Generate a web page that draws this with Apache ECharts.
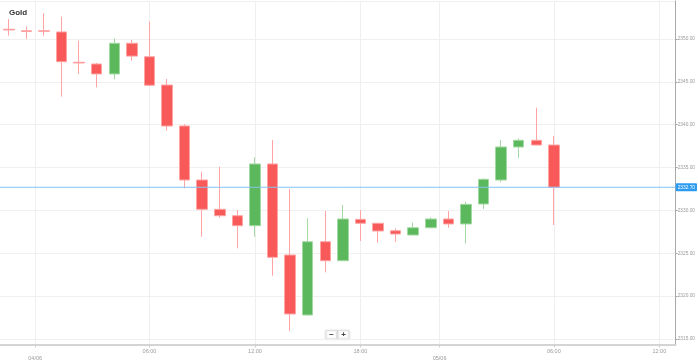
<!DOCTYPE html>
<html>
<head>
<meta charset="utf-8">
<script src="https://cdn.jsdelivr.net/npm/echarts@6/dist/echarts.min.js"></script>
<style>
html,body{margin:0;padding:0;background:#fff;}
#chart{width:698px;height:362px;}
</style>
</head>
<body>
<div id="chart"></div>
<script>
// Hourly candles (03/06 22:00 ... 05/06 06:00) plus empty future slots to 12:00
const categories = ['22:00','23:00','00:00','01:00','02:00','03:00','04:00','05:00','06:00','07:00',
  '08:00','09:00','10:00','11:00','12:00','13:00','14:00','15:00','16:00','17:00',
  '18:00','19:00','20:00','21:00','22:00','00:00','01:00','02:00','03:00','04:00',
  '05:00','06:00','07:00','08:00','09:00','10:00','11:00','12:00'];
const openValues  = [2351.13,2350.95,2350.95,2350.82,2347.28,2347.08,2345.92,2349.50,2347.93,2344.63,
  2339.85,2333.55,2330.13,2329.38,2328.22,2335.42,2324.80,2317.80,2326.35,2324.13,
  2328.96,2328.50,2327.63,2327.13,2327.98,2329.00,2328.42,2330.75,2333.55,2337.40,
  2338.18,2337.63];
const closeValues = [2351.05,2350.88,2350.90,2347.35,2347.20,2345.92,2349.50,2348.00,2344.60,2339.85,
  2333.55,2330.13,2329.38,2328.22,2335.42,2324.53,2317.92,2326.35,2324.13,2329.00,
  2328.50,2327.60,2327.25,2327.98,2329.00,2328.42,2330.71,2333.63,2337.40,2338.18,
  2337.63,2332.70];
const lowValues   = [2350.39,2350.00,2350.39,2343.27,2345.92,2344.36,2345.30,2347.47,2344.50,2339.30,
  2332.58,2326.93,2329.15,2325.58,2326.93,2322.38,2315.93,2317.70,2322.78,2324.10,
  2326.43,2326.23,2326.30,2327.10,2327.90,2327.98,2326.16,2330.17,2333.28,2336.08,
  2337.60,2328.30];
const highValues  = [2352.33,2351.44,2353.00,2352.60,2349.80,2347.20,2350.08,2349.88,2352.02,2345.33,
  2340.05,2334.52,2335.10,2330.05,2336.20,2338.22,2332.50,2329.08,2329.93,2330.63,
  2330.05,2328.57,2327.90,2328.57,2329.20,2329.93,2331.02,2333.75,2338.22,2338.40,
  2341.98,2338.68];
const currentPrice = 2332.70;
// Time-axis labels on a half-slot grid (index j = 2*slot+1 is a slot centre, 2*slot a boundary)
const hourLabelSlots = [17, 29, 41, 63, 75];
const hourLabelTexts = ['06:00', '12:00', '18:00', '06:00', '12:00'];
const dateLabelSlots = [4, 50];
const dateLabelTexts = ['04/06', '05/06'];
const yMin = 2314.36, yMax = 2354.43;

const halfCount = categories.length * 2 + 1;
const hourAxisData = new Array(halfCount).fill('');
hourLabelSlots.forEach((j, k) => { hourAxisData[j] = hourLabelTexts[k]; });
const dateAxisData = new Array(halfCount).fill('');
dateLabelSlots.forEach((j, k) => { dateAxisData[j] = dateLabelTexts[k]; });

const candleData = openValues.map((o, i) => [o, closeValues[i], lowValues[i], highValues[i]]);

const FONT = 'Liberation Sans';
const slotW = 17.63;
const gridLeft = -1.8;
const gridTop = 1, gridBottom = 17.5;
const showNonEmpty = (idx, val) => val !== '';
const priceLineColor = '#86c3f0';

const chart = echarts.init(document.getElementById('chart'), null, {renderer: 'canvas'});
chart.setOption({
  animation: false,
  backgroundColor: '#ffffff',
  textStyle: {fontFamily: FONT},
  title: {
    text: 'Gold', left: 4, top: 3.5,
    textStyle: {fontSize: 8, fontWeight: 'bold', color: '#333', fontFamily: FONT}
  },
  grid: [
    {left: gridLeft, top: gridTop, width: slotW * categories.length, bottom: gridBottom},
    {left: 0, top: gridTop, right: 22, bottom: gridBottom}
  ],
  xAxis: [
    {
      type: 'category', gridIndex: 0, data: categories, boundaryGap: true,
      axisLine: {show: false, onZero: false}, axisTick: {show: false}, axisLabel: {show: false}, splitLine: {show: false}
    },
    {
      type: 'category', gridIndex: 0, data: hourAxisData, boundaryGap: false, position: 'bottom',
      axisLine: {show: false, onZero: false},
      axisTick: {show: true, interval: showNonEmpty, length: 3, lineStyle: {color: '#cfcfcf'}},
      axisLabel: {show: true, interval: showNonEmpty, margin: 4, fontSize: 5.5, color: '#9a9a9a', fontFamily: FONT},
      splitLine: {show: true, interval: showNonEmpty, lineStyle: {color: '#efefef', width: 1}}
    },
    {
      type: 'category', gridIndex: 0, data: dateAxisData, boundaryGap: false, position: 'bottom',
      axisLine: {show: false, onZero: false},
      axisTick: {show: true, interval: showNonEmpty, length: 3, lineStyle: {color: '#cfcfcf'}},
      axisLabel: {show: true, interval: showNonEmpty, margin: 11, fontSize: 5.5, color: '#9a9a9a', fontFamily: FONT},
      splitLine: {show: true, interval: showNonEmpty, lineStyle: {color: '#efefef', width: 1}}
    },
    {
      type: 'value', gridIndex: 1, min: 1, max: 2, position: 'bottom',
      axisLine: {show: true, onZero: false, lineStyle: {color: '#d4d4d4', width: 2}},
      axisTick: {show: false}, axisLabel: {show: false}, splitLine: {show: false}
    }
  ],
  yAxis: [
    {type: 'value', gridIndex: 0, min: yMin, max: yMax, show: false,
     axisLine: {show: false, onZero: false}, splitLine: {show: false}},
    {
      type: 'value', gridIndex: 1, min: yMin, max: yMax, splitNumber: 8, position: 'right',
      axisLine: {show: true, onZero: false, lineStyle: {color: '#a8a8a8', width: 1}},
      axisTick: {show: true, length: 2, lineStyle: {color: '#a8a8a8'}},
      axisLabel: {
        show: true, margin: 2, fontSize: 4.8, color: '#9a9a9a', fontFamily: FONT,
        showMinLabel: false, showMaxLabel: false,
        formatter: v => v.toFixed(2)
      },
      splitLine: {show: true, lineStyle: {color: '#f0f0f0', width: 1}}
    }
  ],
  series: [
    {
      type: 'candlestick', xAxisIndex: 0, yAxisIndex: 0,
      data: candleData, barWidth: 11,
      itemStyle: {
        color: '#5cb85c', color0: '#f85959',
        borderColor: '#a3d9a3', borderColor0: '#ffa3a3', borderWidth: 1
      }
    },
    {
      type: 'line', xAxisIndex: 3, yAxisIndex: 1, silent: true,
      data: [[1, currentPrice], [2, currentPrice]],
      symbol: 'none', showSymbol: false,
      itemStyle: {color: priceLineColor},
      lineStyle: {color: priceLineColor, width: 1, type: 'solid'},
      emphasis: {disabled: true},
      endLabel: {
        show: true, distance: 0,
        formatter: () => currentPrice.toFixed(2),
        backgroundColor: '#2d9bf0', color: '#ffffff', fontSize: 4.8, fontFamily: FONT,
        padding: [2, 2, 1, 2], borderRadius: 1
      }
    }
  ],
  graphic: [
    {type: 'rect', shape: {x: 326, y: 330.5, width: 11, height: 8.5},
     style: {fill: '#ffffff', stroke: '#e2e2e2', lineWidth: 1, shadowBlur: 2, shadowColor: 'rgba(0,0,0,0.15)'}},
    {type: 'rect', shape: {x: 338, y: 330.5, width: 11, height: 8.5},
     style: {fill: '#ffffff', stroke: '#e2e2e2', lineWidth: 1, shadowBlur: 2, shadowColor: 'rgba(0,0,0,0.15)'}},
    {type: 'text', x: 331.5, y: 334.8,
     style: {text: '−', fill: '#444', font: 'bold 8px ' + FONT, align: 'center', verticalAlign: 'middle'}},
    {type: 'text', x: 343.5, y: 334.8,
     style: {text: '+', fill: '#444', font: 'bold 8px ' + FONT, align: 'center', verticalAlign: 'middle'}}
  ]
});
</script>
</body>
</html>
